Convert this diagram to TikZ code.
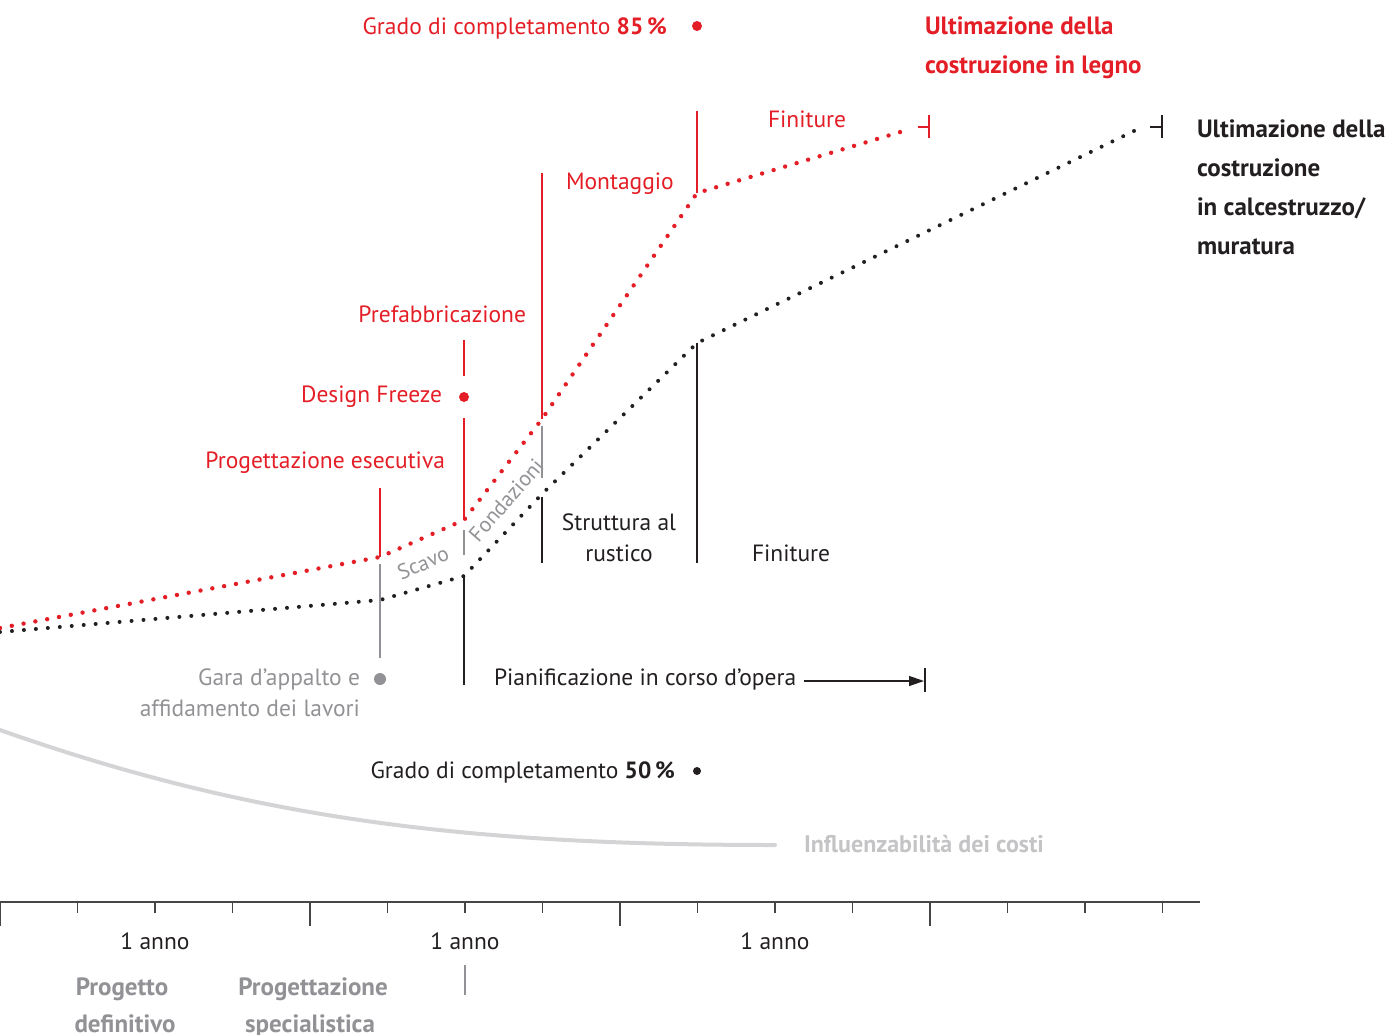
\documentclass[tikz,border=0pt]{standalone}
\usepackage{fontspec}
\setmainfont{PT Sans}
\usetikzlibrary{arrows.meta}
\definecolor{rd}{RGB}{228,30,38}
\definecolor{gr}{RGB}{146,146,150}
\definecolor{lg}{RGB}{196,196,198}
\definecolor{cc}{RGB}{212,212,214}
\definecolor{bk}{RGB}{35,31,32}
\definecolor{ax}{RGB}{70,70,72}
\begin{document}
\begin{tikzpicture}[x=1pt,y=-1pt,
  every node/.style={inner sep=0pt,outer sep=0pt},
  lbl/.style={font=\fontsize{23.5}{28}\selectfont},
  blbl/.style={font=\fontsize{25}{30}\selectfont\bfseries},
  rotlbl/.style={font=\fontsize{21.5}{26}\selectfont},
  dotline/.style={line width=4.4pt,line cap=round,dash pattern=on 0pt off 12pt},
  vline/.style={line width=1.8pt},
  endbar/.style={line width=2.4pt},
  tick/.style={line width=1.3pt,ax},
  bigdot/.style={circle,inner sep=0pt,minimum size=#1}]
\useasboundingbox (0,0) rectangle (1389,1034);

% curve points
\coordinate (r0) at (0,628);
\coordinate (r1) at (380,557);
\coordinate (r2) at (464,520);
\coordinate (r3) at (542,419);
\coordinate (r4) at (697,193);
\coordinate (r5) at (907,130);
\coordinate (b0) at (0,632);
\coordinate (b1) at (380,600);
\coordinate (b2) at (464,576);
\coordinate (b3) at (542,494);
\coordinate (b4) at (697,343);
\coordinate (b5) at (1136,130);

% cost curve
\coordinate (c0) at (0,730);
\coordinate (c1) at (775,845);
\draw[cc,line width=4pt,line cap=round] (c0) .. controls (250,818) and (460,845) .. (c1);

% dotted curves
\draw[rd,dotline] (r0) -- (r1) -- (r2) -- (r3) -- (r4) -- (r5);
\draw[bk,dotline,line width=4pt] (b0) -- (b1) -- (b2) -- (b3) -- (b4) -- (b5);

% end markers
\coordinate (re1) at (918,127); \coordinate (re2) at (929,127);
\coordinate (re3) at (929,115); \coordinate (re4) at (929,138);
\draw[rd,endbar] (re1) -- (re2);
\draw[rd,endbar] (re3) -- (re4);
\coordinate (be1) at (1150,127); \coordinate (be2) at (1162,127);
\coordinate (be3) at (1162,115); \coordinate (be4) at (1162,138);
\draw[bk,endbar] (be1) -- (be2);
\draw[bk,endbar] (be3) -- (be4);

% vertical red lines
\coordinate (v1) at (380,488);
\coordinate (v2a) at (464,340); \coordinate (v2b) at (464,376);
\coordinate (v2c) at (464,418);
\coordinate (v3) at (542,173);
\coordinate (v4) at (697,111);
\draw[rd,vline] (v1) -- (r1);
\draw[rd,vline] (v2a) -- (v2b);
\draw[rd,vline] (v2c) -- (r2);
\draw[rd,vline] (v3) -- (r3);
\draw[rd,vline] (v4) -- (r4);

% gray lines
\coordinate (g1a) at (380,564); \coordinate (g1b) at (380,658);
\coordinate (g2a) at (464,530); \coordinate (g2b) at (464,555);
\coordinate (g3a) at (542,426); \coordinate (g3b) at (542,478);
\draw[gr,vline] (g1a) -- (g1b);
\draw[gr,vline] (g2a) -- (g2b);
\draw[gr,vline] (g3a) -- (g3b);

% black lines
\coordinate (k1) at (464,685);
\coordinate (k2a) at (542,497); \coordinate (k2b) at (542,563);
\coordinate (k3) at (697,563);
\draw[bk,vline] (b2) -- (k1);
\draw[bk,vline] (k2a) -- (k2b);
\draw[bk,vline] (b4) -- (k3);

% dots
\node[bigdot=10pt,fill=rd] (d85) at (697,26) {};
\node[bigdot=10pt,fill=rd] (ddf) at (464,397) {};
\node[bigdot=12pt,fill=gr] (dga) at (380,679) {};
\node[bigdot=8pt,fill=bk] (d50) at (697,771) {};

% red labels
\node[lbl,rd,anchor=base east] (t85) at (667,34) {Grado di completamento \textbf{85\,\%}};
\node[blbl,rd,anchor=base west] (tul1) at (925,34) {Ultimazione della};
\node[blbl,rd,anchor=base west] (tul2) at (925,73) {costruzione in legno};
\node[lbl,rd,anchor=base west] (tfinr) at (768,127) {Finiture};
\node[lbl,rd,anchor=base west] (tmont) at (566,189) {Montaggio};
\node[lbl,rd,anchor=base east] (tpref) at (526,322) {Prefabbricazione};
\node[lbl,rd,anchor=base east] (tdf) at (442,402) {Design Freeze};
\node[lbl,rd,anchor=base east] (tpe) at (445,468) {Progettazione esecutiva};

% black labels
\node[blbl,bk,anchor=base west] (tub1) at (1197,137) {Ultimazione della};
\node[blbl,bk,anchor=base west] (tub2) at (1197,176) {costruzione};
\node[blbl,bk,anchor=base west] (tub3) at (1197,215) {in calcestruzzo/};
\node[blbl,bk,anchor=base west] (tub4) at (1197,254) {muratura};
\node[lbl,bk,anchor=base] (tsr1) at (619,530) {Struttura al};
\node[lbl,bk,anchor=base] (tsr2) at (619,561) {rustico};
\node[lbl,bk,anchor=base west] (tfinb) at (752,561) {Finiture};
\node[lbl,bk,anchor=base west] (tpian) at (494,685) {Pianificazione in corso d’opera};
\node[lbl,bk,anchor=base east] (t50) at (675,778) {Grado di completamento \textbf{50\,\%}};

% gray labels
\node[lbl,gr,anchor=base east] (tga1) at (360,685) {Gara d’appalto e};
\node[lbl,gr,anchor=base east] (tga2) at (360,716) {affidamento dei lavori};
\node[rotlbl,gr,rotate=23] (tsc) at (423,563) {Scavo};
\node[rotlbl,gr,rotate=49] (tfo) at (506,500) {Fondazioni};
\node[blbl,lg,anchor=base west,font=\fontsize{24}{29}\selectfont\bfseries] (tinf) at (804,852) {Influenzabilità dei costi};

% arrow
\coordinate (a1) at (804,681); \coordinate (a2) at (924,681);
\coordinate (a3) at (925,668); \coordinate (a4) at (925,692);
\draw[bk,line width=1.3pt,-{Triangle[length=15pt,width=10pt]}] (a1) -- (a2);
\draw[bk,endbar] (a3) -- (a4);

% axis
\coordinate (ax0) at (0,902); \coordinate (ax1) at (1200,902);
\draw[tick] (ax0) -- (ax1);
\foreach \i in {0,...,15} {
  \pgfmathsetmacro{\xx}{77.5*\i}
  \pgfmathtruncatemacro{\md}{mod(\i,4)}
  \ifnum\md=0
    \draw[tick] (\xx,902) -- (\xx,926);
  \else
    \draw[tick] (\xx,902) -- (\xx,913);
  \fi
}
\node[lbl,bk,anchor=base] (y1) at (155,949) {1 anno};
\node[lbl,bk,anchor=base] (y2) at (465,949) {1 anno};
\node[lbl,bk,anchor=base] (y3) at (775,949) {1 anno};
\coordinate (gt1) at (465,965); \coordinate (gt2) at (465,995);
\draw[gr,line width=1.3pt] (gt1) -- (gt2);

\node[blbl,gr,anchor=base] (tpd1) at (122,995) {Progetto};
\node[blbl,gr,anchor=base] (tpd2) at (125,1032) {definitivo};
\node[blbl,gr,anchor=base] (tps1) at (313,995) {Progettazione};
\node[blbl,gr,anchor=base] (tps2) at (310,1032) {specialistica};
\end{tikzpicture}
\end{document}
